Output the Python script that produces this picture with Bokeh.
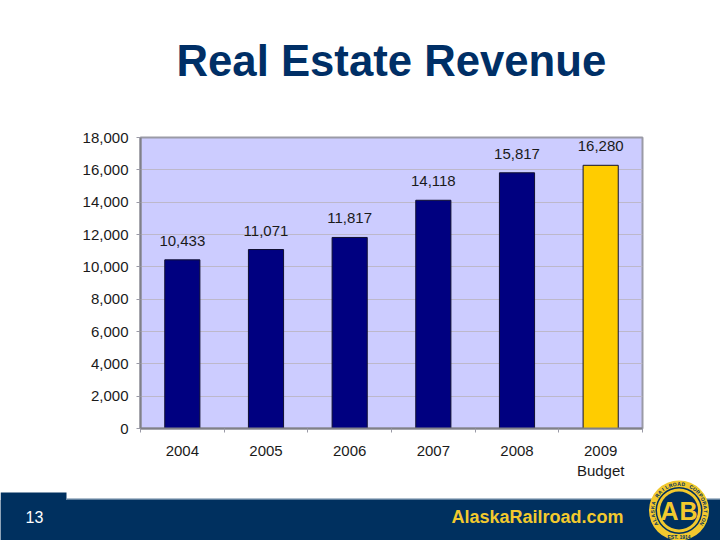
import math

from bokeh.core.properties import value
from bokeh.embed import file_html
from bokeh.layouts import column
from bokeh.models import BoxAnnotation, FixedTicker, NumeralTickFormatter
from bokeh.plotting import figure
from bokeh.resources import INLINE

years = ['2004', '2005', '2006', '2007', '2008', '2009\nBudget']
revenue = [10433, 11071, 11817, 14118, 15817, 16280]
bar_colors = ['#000080', '#000080', '#000080', '#000080', '#000080', '#FFCC00']
y_ticks = [0, 2000, 4000, 6000, 8000, 10000, 12000, 14000, 16000, 18000]

FONT = 'Liberation Sans'
NAVY = '#00305F'
GOLD = '#F2C92E'
W = 720
HEAD_H = 120
CHART_H = 370
FOOT_H = 62

# slide title, a plot of its own in page pixels
head = figure(width=W, height=HEAD_H, output_backend='svg', toolbar_location=None,
              x_range=(0, W), y_range=(HEAD_H, 0), min_border=0, frame_align=False)
head.axis.visible = False
head.grid.visible = False
head.outline_line_color = None
head.text(x=[176], y=[60], text=['Real Estate Revenue'], text_font=value(FONT), text_font_style='bold',
          text_font_size='43.7px', text_color='#002F66', text_align='left', text_baseline='middle')

p = figure(width=W, height=CHART_H, output_backend='svg', toolbar_location=None,
           x_range=(0, 6), y_range=(0, 18000), frame_align=False,
           min_border_left=140, min_border_right=78, min_border_top=17, min_border_bottom=62)
p.background_fill_color = '#CCCCFF'
p.border_fill_color = 'white'
p.outline_line_color = '#9A9AA6'
p.outline_line_width = 2

xs = [i + 0.5 for i in range(len(years))]
p.vbar(x=xs, top=revenue, width=0.42, fill_color=bar_colors, line_color='#101030', line_width=1)
p.text(x=xs, y=revenue, text=[f'{v:,}' for v in revenue], text_font=value(FONT), text_font_size='15px',
       text_color='#1a1a1a', text_align='center', text_baseline='bottom', y_offset=-14)

# ticks sit between the categories, labels in the middle
p.xaxis.ticker = FixedTicker(ticks=xs, minor_ticks=list(range(7)))
p.xaxis.major_label_overrides = dict(zip(xs, years))
p.xaxis.major_tick_line_color = None
p.xaxis.minor_tick_out = 4
p.xaxis.minor_tick_in = 0
p.xaxis.minor_tick_line_color = '#9A9AA6'
p.xaxis.major_label_standoff = 7

p.yaxis.ticker = FixedTicker(ticks=y_ticks)
p.yaxis.formatter = NumeralTickFormatter(format='0,0')
p.yaxis.major_tick_out = 4
p.yaxis.major_tick_in = 0
p.yaxis.minor_tick_line_color = None
p.yaxis.major_tick_line_color = '#9A9AA6'
p.yaxis.major_label_standoff = 8

for ax in (p.xaxis, p.yaxis):
    ax.axis_line_color = '#808088'
    ax.axis_line_width = 2
    ax.major_label_text_font = FONT
    ax.major_label_text_font_size = '15px'
    ax.major_label_text_color = '#1a1a1a'

p.xgrid.grid_line_color = None
p.ygrid.grid_line_color = '#BDB8CA'
p.ygrid.grid_line_width = 1.2

# footer strip, its own little plot in page pixels, pulled up under the chart
foot = figure(width=W, height=FOOT_H, output_backend='svg', toolbar_location=None,
              x_range=(0, W), y_range=(540, 478), min_border=0, frame_align=False,
              margin=(540 - HEAD_H - CHART_H - FOOT_H, 0, 0, 0))
foot.axis.visible = False
foot.grid.visible = False
foot.outline_line_color = None
foot.background_fill_color = None
foot.border_fill_color = None
for left, right, top, color in [(0, 66, 492, NAVY), (66, W, 498, '#5F7E9C'), (0, W, 499.5, NAVY)]:
    foot.add_layout(BoxAnnotation(left=left, right=right, top=top, bottom=540, fill_color=color, fill_alpha=1,
                                  line_color=None, level='underlay'))

foot.text(x=[34], y=[516], text=['13'], text_font=value(FONT), text_font_size='16px', text_color='white',
          text_align='center', text_baseline='middle')
foot.text(x=[537], y=[516], text=['AlaskaRailroad.com'], text_font=value(FONT), text_font_style='bold',
          text_font_size='18px', text_color=GOLD, text_align='center', text_baseline='middle')

# railroad badge
cx, cy = 678.5, 510
for r, color in [(30, GOLD), (23.5, NAVY), (22, GOLD), (19, NAVY)]:
    foot.scatter(x=[cx], y=[cy], size=2 * r, marker='circle', fill_color=color, line_color=None)
foot.text(x=[cx - 9.5, cx + 9.5], y=[cy, cy], text=['A', 'B'], text_font=value(FONT), text_font_style='bold',
          text_font_size='25px', text_color=GOLD, text_align='center', text_baseline='middle')

ring_text = 'ALASKA RAILROAD CORPORATION'
step = 240 / (len(ring_text) - 1)
ring_x, ring_y, ring_angle = [], [], []
for i in range(len(ring_text)):
    a = math.radians(-120 + i * step)
    ring_x.append(cx + 26.7 * math.sin(a))
    ring_y.append(cy - 26.7 * math.cos(a))
    ring_angle.append(-a)
foot.text(x=ring_x, y=ring_y, text=list(ring_text), angle=ring_angle, text_font=value(FONT),
          text_font_size='5px', text_font_style='bold', text_color=NAVY, text_align='center',
          text_baseline='middle')
foot.text(x=[cx], y=[cy + 26.7], text=['EST. 1914'], text_font=value(FONT), text_font_size='5px',
          text_font_style='bold', text_color=NAVY, text_align='center', text_baseline='middle')

page = column(head, p, foot, spacing=0)
open('out.html', 'w').write(file_html(page, INLINE))
